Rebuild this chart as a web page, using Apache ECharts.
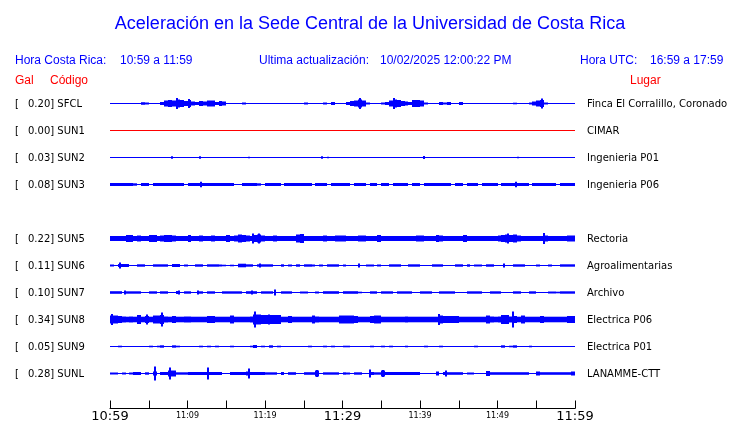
<!DOCTYPE html>
<html>
<head>
<meta charset="utf-8">
<title>Aceleración UCR</title>
<script src="https://cdn.jsdelivr.net/npm/echarts@6/dist/echarts.min.js"></script>
<style>
  html, body { margin: 0; padding: 0; background: #fff; }
  #chart { width: 740px; height: 423px; }
</style>
</head>
<body>
<div id="chart"></div>
<script>
// station codes, peak acceleration (Gal) and place names
const codes = ['SFCL', 'SUN1', 'SUN2', 'SUN3', 'SUN5', 'SUN6', 'SUN7', 'SUN8', 'SUN9', 'SUNL'];
const galMax = ['0.20', '0.00', '0.03', '0.08', '0.22', '0.11', '0.10', '0.34', '0.05', '0.28'];
const places = ['Finca El Corralillo, Coronado', 'CIMAR', 'Ingenieria P01', 'Ingenieria P06', 'Rectoria',
  'Agroalimentarias', 'Archivo', 'Electrica P06', 'Electrica P01', 'LANAMME-CTT'];
const tickLabels = ['10:59', '11:09', '11:19', '11:29', '11:39', '11:49', '11:59'];

// envelope (half amplitude) per half minute, 120 bins from 10:59 to 11:59
const envSFCL = [
  0, 0, 0, 0, 0, 0, 0, 0.5, 1.3, 1, 0.5, 0.5, 0.5, 1.5, 3, 3.5, 3, 4, 3.5, 2.5,
  3.5, 2, 1.5, 2.5, 2, 3, 3, 1.5, 2.5, 2, 0.5, 0, 0, 0, 1, 0, 0, 0, 0, 0,
  0, 0, 0, 0, 0, 0.5, 0, 0, 0, 0, 1, 0, 0, 0, 0, 1, 0, 1.5, 0, 0,
  0, 1.5, 2.5, 3, 4, 3, 1, 0, 0, 0, 1, 1.5, 3, 4, 3.5, 2.5, 2, 1.5, 3.5, 3.5,
  3, 1, 0, 0, 0, 1.5, 1, 1.5, 0, 0, 1.5, 0, 0, 0, 0, 0, 0, 0, 0, 0,
  0, 0, 0, 0, 0.8, 0, 0, 0, 1, 2, 3, 3.5, 1, 0, 0, 0, 0, 0, 0, 0
];
const envSUN1 = [
  0, 0, 0, 0, 0, 0, 0, 0, 0, 0, 0, 0, 0, 0, 0, 0, 0, 0, 0, 0,
  0, 0, 0, 0, 0, 0, 0, 0, 0, 0, 0, 0, 0, 0, 0, 0, 0, 0, 0, 0,
  0, 0, 0, 0, 0, 0, 0, 0, 0, 0, 0, 0, 0, 0, 0, 0, 0, 0, 0, 0,
  0, 0, 0, 0, 0, 0, 0, 0, 0, 0, 0, 0, 0, 0, 0, 0, 0, 0, 0, 0,
  0, 0, 0, 0, 0, 0, 0, 0, 0, 0, 0, 0, 0, 0, 0, 0, 0, 0, 0, 0,
  0, 0, 0, 0, 0, 0, 0, 0, 0, 0, 0, 0, 0, 0, 0, 0, 0, 0, 0, 0
];
const envSUN2 = [
  0, 0, 0, 0, 0, 0, 0, 0, 0, 0, 0, 0, 0, 0, 0, 0, 0, 0, 0, 0,
  0, 0, 0, 0, 0, 0, 0, 0, 0, 0, 0, 0, 0, 0, 0, 0, 0, 0, 0, 0,
  0, 0, 0, 0, 0, 0, 0, 0, 0, 0, 0, 0, 0, 0, 0, 0, 0, 0, 0, 0,
  0, 0, 0, 0, 0, 0, 0, 0, 0, 0, 0, 0, 0, 0, 0, 0, 0, 0, 0, 0,
  0, 0, 0, 0, 0, 0, 0, 0, 0, 0, 0, 0, 0, 0, 0, 0, 0, 0, 0, 0,
  0, 0, 0, 0, 0, 0, 0, 0, 0, 0, 0, 0, 0, 0, 0, 0, 0, 0, 0, 0
];
const envSUN3 = [
  1.5, 1.5, 1.5, 1.5, 1.5, 1.5, 1.2, 0, 1.5, 1.5, 0, 1.5, 1.5, 1.5, 1.5, 1.5, 1.5, 1.5, 1.5, 0,
  1.5, 1.5, 1.5, 1.5, 1.5, 1.5, 1.5, 1.5, 1.5, 1.5, 1.5, 1.5, 0, 0, 1.5, 1.5, 1.5, 1.5, 1.2, 0,
  1.5, 1.5, 1.5, 1.5, 0, 1.5, 1.5, 1.5, 1.5, 1.5, 1.5, 1.5, 0, 1.5, 1.5, 1.5, 0, 1.5, 1.5, 1.5,
  1.5, 1.5, 0, 1.5, 1.5, 1.5, 0, 1.5, 1.5, 0, 1.5, 1.5, 0, 1.5, 1.5, 1.5, 1.5, 0, 1.5, 1.5,
  0, 1.5, 1.5, 1.5, 1.5, 1.5, 1.5, 1.5, 0, 1.5, 1.5, 0, 1.5, 1.5, 1.5, 0, 1.5, 1.5, 1.5, 1.5,
  0, 1.5, 1.5, 1.5, 1.5, 1.5, 1.5, 1.5, 0, 1.5, 1.5, 1.5, 1.5, 1.5, 1.5, 0, 1.5, 1.5, 1.5, 1.5
];
const envSUN5 = [
  2.5, 2.5, 2.5, 2.5, 3.5, 3.5, 2.5, 3, 2.5, 2.5, 3.5, 3.5, 2.5, 3, 3.5, 3.5, 3, 2.5, 2.5, 2.5,
  3.5, 2.5, 2.5, 3, 2.5, 2.5, 3, 2.5, 2.5, 2.5, 3.5, 2.5, 3, 4, 3.5, 3, 2.5, 3.5, 4, 3,
  2.5, 2.5, 3, 2.5, 2.5, 2.5, 2.5, 2.5, 4, 4.5, 2.5, 2.5, 2.5, 2.5, 2.5, 3, 2.5, 2.5, 3, 3,
  3, 2.5, 2.5, 2.5, 3, 3, 2.5, 2.5, 2.5, 3.5, 2.5, 2.5, 2.5, 2.5, 2.5, 2.5, 2.5, 2.5, 2.5, 3,
  3, 2.5, 2.5, 2.5, 3.5, 3, 2.5, 2.5, 2.5, 2.5, 2.5, 3.5, 2.5, 2.5, 2.5, 2.5, 2.5, 2.5, 2.5, 2.5,
  3, 3.5, 4, 3.5, 4, 3, 2.5, 2.5, 2.5, 2.5, 2.5, 2.5, 3, 2.5, 2.5, 2.5, 2.5, 2.5, 3, 3
];
const envSUN6 = [
  1, 0, 1.5, 1.5, 1.5, 0, 0, 1.2, 1.2, 0, 0, 1.2, 1.2, 1.2, 1.2, 0, 1.5, 1.5, 0, 1,
  0, 0, 1.2, 1.2, 0, 1.2, 1.2, 1.2, 1, 0.8, 0, 0.8, 0, 1.8, 1.8, 1.2, 1.2, 0, 1.2, 1.2,
  1.2, 1.2, 0, 0, 1.2, 0, 1, 0, 1.2, 0, 1.2, 1.2, 1, 0, 1, 0, 1.2, 1.2, 1.2, 0,
  1, 0, 0, 0, 0, 0, 1, 1, 0, 1, 0, 0, 1.2, 1.2, 1.2, 0, 0, 1.2, 1.2, 1.2,
  0, 0, 0, 1.2, 1.2, 1.2, 0, 0, 0, 1.2, 1.2, 0, 1.2, 0, 1, 1, 0, 1.2, 1.2, 0,
  0, 0, 0, 0, 1.2, 1.2, 1.2, 0, 0, 0, 1, 0, 0, 1, 0, 0, 1.2, 1.2, 1.2, 1.2
];
const envSUN7 = [
  1.3, 1.3, 1.3, 0, 1.2, 1.2, 1.2, 1.2, 0, 0, 1.2, 1.2, 0, 1.2, 1.2, 0, 0, 1.5, 0, 1.2,
  1.2, 0, 0, 1.2, 0, 1.2, 1.2, 0, 0, 1.2, 1.2, 1.2, 1.2, 1.2, 0, 1.3, 1.3, 1.3, 0, 1.2,
  1.2, 1.2, 0, 0, 1.2, 1.2, 1.2, 0, 0, 1, 1, 0, 0, 1, 0, 1.3, 1.3, 1.3, 1.3, 0,
  1.3, 1.3, 1.3, 1.3, 0.8, 0, 0, 1.2, 1.2, 0, 1.2, 1.2, 1.2, 0, 1.2, 1.2, 1.2, 1.2, 0, 0,
  1.2, 1.2, 1.2, 0, 0, 1.2, 1.2, 1.2, 1.2, 0, 0, 0, 1.2, 1.2, 1.2, 1.2, 0, 0, 1.2, 1.2,
  1.2, 0, 0, 0, 1.2, 1.2, 0, 0, 1.2, 1.2, 0, 0, 0, 1, 1, 0.8, 1.2, 1.2, 1.2, 1.2
];
const envSUN8 = [
  4, 4, 3.5, 3, 2.8, 3, 2.8, 4.5, 2.8, 3.5, 2.8, 4, 4, 4.5, 3, 2.8, 3.5, 2.8, 2.8, 3,
  3, 2.8, 2.8, 2.8, 2.8, 3.5, 3.5, 2.8, 2.8, 2.8, 2.8, 4, 2.8, 2.8, 2.8, 2.8, 3, 5, 5, 4.5,
  4.5, 4.5, 4.5, 4.5, 2.8, 2.8, 3.5, 2.8, 2.8, 2.8, 2.8, 2.8, 4, 3, 2.8, 2.8, 2.8, 2.8, 2.8, 4,
  4, 4, 4, 3.5, 2.8, 2.8, 2.8, 3.5, 4, 4, 2.8, 2.8, 2.8, 2.8, 2.8, 2.8, 3, 2.8, 2.8, 2.8,
  2.8, 2.8, 2.8, 2.8, 2.8, 4, 3.5, 3.5, 3.5, 3.5, 2.8, 2.8, 2.8, 2.8, 2.8, 2.8, 2.8, 4, 3, 2.8,
  3, 4.5, 4.5, 3, 3.5, 2.8, 4, 2.8, 2.8, 2.8, 2.8, 3.5, 2.8, 2.8, 2.8, 2.8, 2.8, 2.8, 3.5, 3.5
];
const envSUN9 = [
  0, 0, 0.8, 0, 0, 0, 0, 0, 0, 0, 0.8, 0, 0.8, 1.2, 0, 0, 1.2, 0.8, 0, 0,
  0, 0, 0, 0.8, 0, 0.8, 0, 0.8, 0, 0, 0, 0.8, 0, 0, 0, 0, 0.8, 1.5, 0, 0.8,
  0, 1.2, 0, 0.8, 0, 0, 0, 0, 0, 0, 0, 0.8, 0, 0, 0, 0.8, 0, 0.8, 0, 0,
  0.8, 0.8, 0, 0, 0, 0, 0, 0.8, 0, 0, 0.8, 0, 0.8, 0, 0, 0, 0.8, 0, 0, 0,
  0, 0.8, 0, 0, 0, 0.8, 0, 0, 0, 0, 0, 0, 0, 0, 0.8, 0, 0, 0, 0, 0,
  0, 1.2, 0, 0.8, 1.2, 0, 0, 0, 0.8, 0, 0, 0, 0, 0, 0, 0, 0, 0, 0, 0
];
const envSUNL = [
  1, 1, 0, 1, 0, 1, 1.5, 1.5, 0, 1.2, 0, 2, 0, 1.5, 1.5, 3, 3, 1.2, 1.2, 1.2,
  1.5, 1.5, 1.5, 1.5, 1.5, 1.5, 1.5, 1.5, 1.5, 0, 0, 1.5, 1.5, 1.5, 1.5, 2, 1.5, 1.5, 1.5, 1.5,
  1.2, 1.2, 1.2, 0, 1.5, 0, 1.3, 1.3, 0, 0, 1.3, 1.3, 1.3, 3, 0, 1.2, 1.2, 1.2, 1.2, 0,
  1.2, 1, 0, 1.2, 1.2, 0, 0, 1.5, 1.2, 1.2, 3, 1.5, 1.5, 1.5, 1.5, 1.5, 1.5, 1.5, 1.5, 1.5,
  0, 0, 0, 0, 2, 0, 1.5, 1.3, 1.3, 1.3, 1.3, 0, 1, 1, 0, 0, 0, 2.5, 1.3, 1.3,
  1.3, 1.3, 1.3, 1.3, 1.3, 1.3, 1.3, 1.3, 0, 0, 2, 1.3, 1.3, 1.3, 1.3, 1.3, 1.3, 1.3, 1.3, 2
];

// isolated peaks: [minute after 10:59, half amplitude]
const spkSFCL = [[8.7, 5.5], [10.15, 4.5], [32.2, 5.5], [36.7, 5.5], [55.7, 5]];
const spkSUN1 = [];
const spkSUN2 = [[8.0, 1.3], [11.65, 1.3], [17.9, 0.7], [27.4, 1.3], [28.1, 0.7], [40.5, 1.5], [52.6, 0.8]];
const spkSUN3 = [[11.7, 2.7], [52.4, 2.7]];
const spkSUN5 = [[18.5, 5], [19.2, 5], [51.3, 5], [56.0, 5.5]];
const spkSUN6 = [[1.3, 3], [19.4, 2], [32.1, 2], [50.9, 2]];
const spkSUN7 = [[1.95, 2], [8.85, 2], [11.4, 2], [18.3, 2], [21.35, 3]];
const spkSUN8 = [[0.3, 5.5], [4.75, 5], [6.7, 7], [18.65, 8], [20.5, 5], [42.5, 5.5], [52.0, 8]];
const spkSUN9 = [];
const spkSUNL = [[5.75, 7], [7.75, 6], [12.7, 6], [17.9, 5], [26.7, 3.5], [33.5, 4], [35.2, 3.5], [43.3, 3]];

const envelopes = [envSFCL, envSUN1, envSUN2, envSUN3, envSUN5, envSUN6, envSUN7, envSUN8, envSUN9, envSUNL];
const spikes = [spkSFCL, spkSUN1, spkSUN2, spkSUN3, spkSUN5, spkSUN6, spkSUN7, spkSUN8, spkSUN9, spkSUNL];

// layout: row slot of each trace (slot 4 = SUN4, not shown)
const rowSlot = [0, 1, 2, 3, 5, 6, 7, 8, 9, 10];
const BIN = 0.5;          // minutes per envelope bin
const AMP_UNIT = 1 / 27;  // one amplitude unit in row units

const BLUE = '#0000ff';
const RED = '#ff0000';
const LABEL_FONT = '"DejaVu Sans", sans-serif';
const HEAD_FONT = '"Liberation Sans", Arial, sans-serif';

function renderTrace(params, api) {
  const i = api.value(0);
  const slot = api.value(1);
  const color = galMax[i] === '0.00' ? RED : BLUE;
  const start = api.coord([0, slot]);
  const end = api.coord([60, slot]);
  const yc = Math.round(start[1]) + 0.5;
  const half = (a) => Math.max(0.5, api.size([0, a * AMP_UNIT])[1]);
  const children = [];

  children.push({
    type: 'rect',
    shape: { x: Math.round(start[0]), y: yc - 0.5, width: Math.round(end[0] - start[0]), height: 1 },
    style: { fill: color }
  });

  envelopes[i].forEach((a, k) => {
    if (!a) return;
    const x0 = Math.round(api.coord([k * BIN, slot])[0]);
    const x1 = Math.round(api.coord([(k + 1) * BIN, slot])[0]);
    const h = half(a);
    children.push({
      type: 'rect',
      shape: { x: x0, y: yc - h, width: x1 - x0, height: 2 * h },
      style: { fill: color }
    });
  });

  spikes[i].forEach(([t, a]) => {
    const x = Math.round(api.coord([t, slot])[0]);
    const h = half(a);
    children.push({
      type: 'rect',
      shape: { x: x - 1, y: yc - h, width: 2, height: 2 * h },
      style: { fill: color }
    });
  });

  const ty = yc + 0.5;
  children.push({
    type: 'text',
    style: { text: '[', x: 15, y: ty, fill: '#000', fontSize: 10, fontFamily: LABEL_FONT, verticalAlign: 'middle' }
  });
  children.push({
    type: 'text',
    style: { text: galMax[i] + '] ' + codes[i], x: 28, y: ty, fill: '#000', fontSize: 10, fontFamily: LABEL_FONT, verticalAlign: 'middle' }
  });
  children.push({
    type: 'text',
    style: { text: places[i], x: Math.round(end[0]) + 12, y: ty, fill: '#000', fontSize: 10, fontFamily: LABEL_FONT, verticalAlign: 'middle' }
  });

  return { type: 'group', children: children };
}

const chart = echarts.init(document.getElementById('chart'), null, { renderer: 'canvas' });

const headText = (text, x, y, fill) => ({
  type: 'text',
  left: x,
  top: y,
  style: { text: text, fill: fill, fontSize: 12, fontFamily: HEAD_FONT }
});

chart.setOption({
  animation: false,
  backgroundColor: '#fff',
  title: {
    text: 'Aceleración en la Sede Central de la Universidad de Costa Rica',
    left: 'center',
    top: 10,
    textStyle: { color: BLUE, fontSize: 18, fontWeight: 'normal', fontFamily: HEAD_FONT }
  },
  graphic: [
    headText('Hora Costa Rica:', 15, 55, BLUE),
    headText('10:59 a 11:59', 120, 55, BLUE),
    headText('Ultima actualización:', 259, 55, BLUE),
    headText('10/02/2025 12:00:22 PM', 380, 55, BLUE),
    headText('Hora UTC:', 580, 55, BLUE),
    headText('16:59 a 17:59', 650, 55, BLUE),
    headText('Gal', 15, 75, RED),
    headText('Código', 50, 75, RED),
    headText('Lugar', 630, 75, RED)
  ],
  grid: { left: 110, right: 165, top: 76, bottom: 14 },
  xAxis: {
    type: 'value',
    position: 'bottom',
    min: 0,
    max: 60,
    interval: 5,
    splitLine: { show: false },
    axisLine: { onZero: false, lineStyle: { color: '#000', width: 1 } },
    axisTick: { inside: true, length: 8, lineStyle: { color: '#000', width: 1 } },
    axisLabel: {
      margin: 2,
      showMinLabel: true,
      showMaxLabel: true,
      hideOverlap: false,
      formatter: (v) => {
        if (v % 10 !== 0) return '';
        const t = tickLabels[v / 10];
        return v % 30 === 0 ? '{big|' + t + '}' : '{small|' + t + '}';
      },
      rich: {
        big: { fontSize: 13, lineHeight: 12, color: '#000', fontFamily: LABEL_FONT },
        small: { fontSize: 8, lineHeight: 10, color: '#000', fontFamily: LABEL_FONT }
      }
    }
  },
  yAxis: {
    type: 'value',
    inverse: true,
    min: -1,
    max: 11.333,
    show: false
  },
  series: [{
    type: 'custom',
    clip: false,
    renderItem: renderTrace,
    data: codes.map((c, i) => [i, rowSlot[i]])
  }]
});
</script>
</body>
</html>
